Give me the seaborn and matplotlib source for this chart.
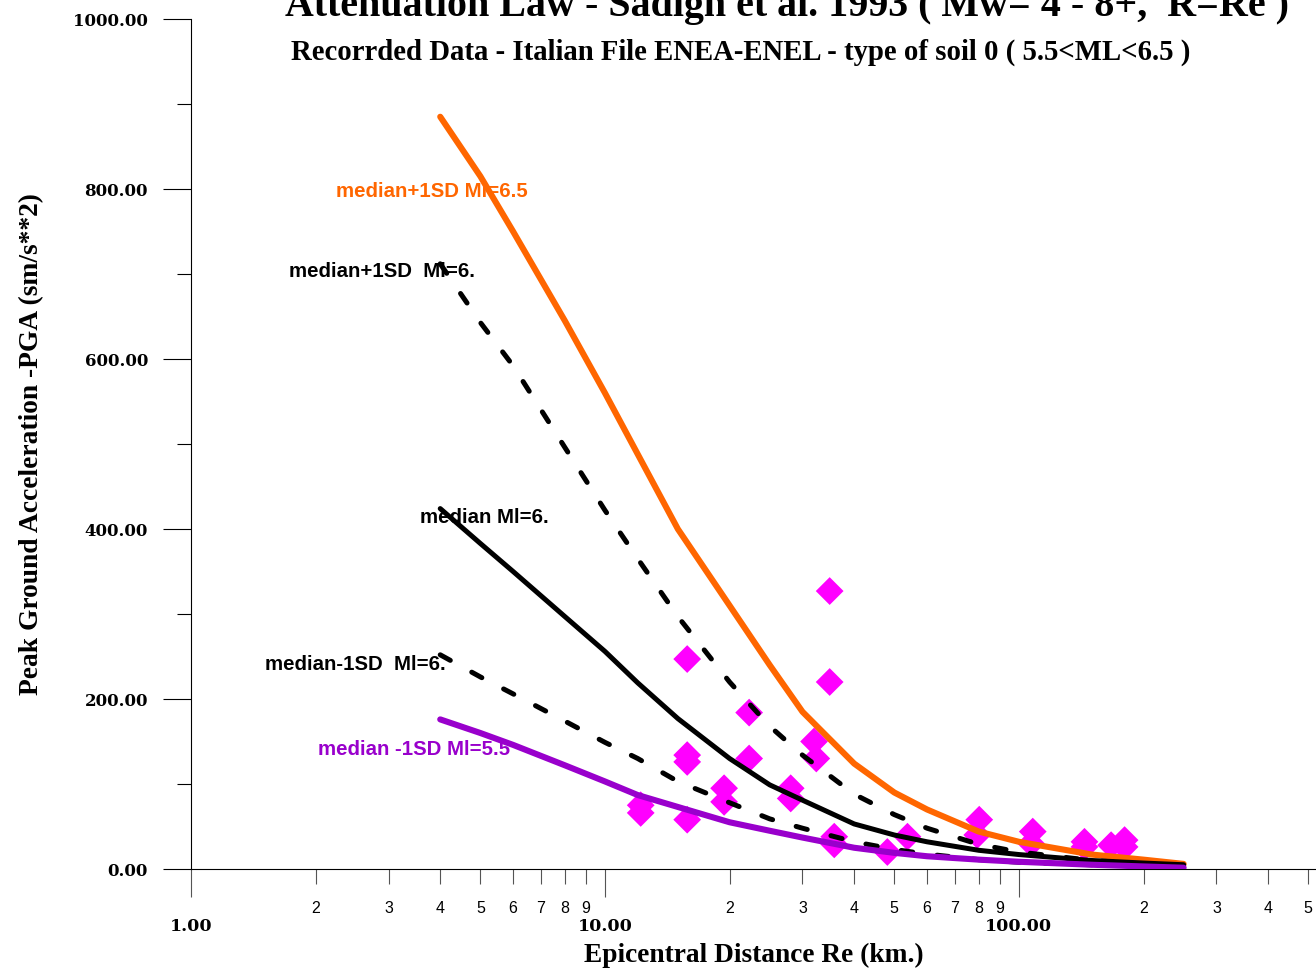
import numpy as np
import pandas as pd
import matplotlib
matplotlib.use("Agg")
import matplotlib.pyplot as plt
import seaborn as sns
from matplotlib.ticker import FixedLocator, FixedFormatter

# ---------------- data ----------------
distance = [4, 5, 6, 8, 10, 12, 15, 20, 25, 30, 40, 50, 60, 80, 100, 150, 200, 250]
plus1sd_ml65 = [885, 815, 750, 645, 560, 488, 400, 310, 240, 185, 124, 90, 70, 44, 32, 17, 11, 6]
plus1sd_ml6 = [712, 643, 592, 496, 422, 365, 297, 220, 168, 134, 88, 64, 48, 29, 20, 10, 6, 4]
median_ml6 = [424, 383, 350, 297, 256, 219, 177, 130, 99, 81, 53, 40, 32, 22, 17, 10, 7, 5]
minus1sd_ml6 = [252, 226, 206, 174, 149, 130, 103, 78, 59, 48, 32, 23, 17.5, 11, 8, 5, 3.5, 2.5]
minus1sd_ml55 = [176, 160, 146, 122, 103, 87, 73, 55, 45, 37, 25, 19, 15, 11, 8.5, 5, 3, 1.5]

rec_dist = [12.2, 12.2, 15.8, 15.8, 15.8, 15.8, 19.4, 19.4, 22.3, 22.3, 28.1, 28.1,
            32.0, 32.4, 34.9, 34.9, 35.8, 35.8, 48.1, 53.8, 79.3, 80.2, 107, 108,
            144, 144, 167, 180, 180]
rec_pga = [75, 66, 247, 134, 126, 58, 95, 79, 184, 130, 95, 83,
           150, 130, 327, 220, 38, 29, 20, 38, 40, 58, 30, 44,
           32, 26, 28, 34, 26]

major_ticks = [1, 10, 100]
major_labels = ["1.00", "10.00", "100.00"]
minor_ticks = [2, 3, 4, 5, 6, 7, 8, 9, 20, 30, 40, 50, 60, 70, 80, 90, 200, 300, 400, 500]
minor_labels = ["2", "3", "4", "5", "6", "7", "8", "9", "2", "3", "4", "5", "6", "7", "8", "9",
                "2", "3", "4", "5"]
y_major = [0, 200, 400, 600, 800, 1000]
y_minor = [100, 300, 500, 700, 900]

title = "Attenuation Law - Sadigh et al. 1993 ( Mw= 4 - 8+,  R=Re )"
subtitle = "Recorrded Data - Italian File ENEA-ENEL - type of soil 0 ( 5.5<ML<6.5 )"

# ---------------- style ----------------
sns.set_style("ticks")
plt.rcParams["font.family"] = ["DejaVu Sans"]
plt.rcParams["text.color"] = "black"
plt.rcParams["axes.labelcolor"] = "black"
plt.rcParams["xtick.labelcolor"] = "black"
plt.rcParams["ytick.labelcolor"] = "black"
plt.rcParams["axes.edgecolor"] = "black"

fig = plt.figure(figsize=(13.16, 9.73), dpi=100)
ax = fig.add_axes([191 / 1316, 1 - 869 / 973, 1125 / 1316, 850 / 973])

curves = pd.DataFrame({
    "distance": distance,
    "p65": plus1sd_ml65,
    "p6": plus1sd_ml6,
    "m6": median_ml6,
    "n6": minus1sd_ml6,
    "n55": minus1sd_ml55,
})
pts = pd.DataFrame({"distance": rec_dist, "pga": rec_pga})

sns.scatterplot(data=pts, x="distance", y="pga", marker="D", s=200, color="#FF00FF",
                edgecolor="none", linewidth=0, ax=ax, zorder=2, legend=False)

dash = (0, (2.3, 4.9))
sns.lineplot(data=curves, x="distance", y="p65", color="#FF6600", lw=4.4, ax=ax,
             solid_capstyle="round", solid_joinstyle="round", zorder=3)
sns.lineplot(data=curves, x="distance", y="p6", color="black", lw=3.6, ax=ax,
             linestyle=dash, dash_capstyle="round", zorder=3)
sns.lineplot(data=curves, x="distance", y="m6", color="black", lw=3.6, ax=ax,
             solid_capstyle="round", solid_joinstyle="round", zorder=3)
sns.lineplot(data=curves, x="distance", y="n6", color="black", lw=3.6, ax=ax,
             linestyle=dash, dash_capstyle="round", zorder=3)
sns.lineplot(data=curves, x="distance", y="n55", color="#9900CC", lw=4.4, ax=ax,
             solid_capstyle="round", solid_joinstyle="round", zorder=3)

ax.set_xscale("log")
ax.set_xlim(1, 522)
ax.set_ylim(0, 1000)

for s in ["top", "right"]:
    ax.spines[s].set_visible(False)
ax.spines["left"].set_linewidth(0.8)
ax.spines["bottom"].set_linewidth(0.8)

ax.xaxis.set_major_locator(FixedLocator(major_ticks))
ax.xaxis.set_major_formatter(FixedFormatter(major_labels))
ax.xaxis.set_minor_locator(FixedLocator(minor_ticks))
ax.xaxis.set_minor_formatter(FixedFormatter(minor_labels))
ax.yaxis.set_major_locator(FixedLocator(y_major))
ax.yaxis.set_major_formatter(FixedFormatter([f"{v:.2f}" for v in y_major]))
ax.yaxis.set_minor_locator(FixedLocator(y_minor))

ax.tick_params(axis="x", which="major", direction="out", length=20, width=0.8,
               color="#555555", labelcolor="black", pad=15, labelsize=12.5)
ax.tick_params(axis="x", which="minor", direction="out", length=11, width=0.8,
               color="#555555", labelcolor="black", pad=12, labelsize=11.5)
ax.tick_params(axis="y", which="major", direction="out", length=20, width=0.8,
               color="black", labelcolor="black", pad=11, labelsize=12)
ax.tick_params(axis="y", which="minor", direction="out", length=10, width=0.8,
               color="black")

for lab in ax.get_xticklabels(which="major") + ax.get_yticklabels():
    lab.set_fontfamily("DejaVu Serif")
    lab.set_fontweight("bold")
for lab in ax.get_xticklabels(which="minor"):
    lab.set_fontfamily("Liberation Sans")

ax.set_xlabel("Epicentral Distance Re (km.)", fontfamily="Liberation Serif",
              fontweight="bold", fontsize=19.7, labelpad=6, color="black")
ax.set_ylabel("Peak Ground Acceleration -PGA (sm/s**2)", fontfamily="Liberation Serif",
              fontweight="bold", fontsize=19.8, labelpad=21, color="black")

fig.text(787 / 1316, 1 - 16 / 973, title, ha="center", va="baseline", color="black",
         fontfamily="Liberation Serif", fontweight="bold", fontsize=28.8)
fig.text(741 / 1316, 1 - 60 / 973, subtitle, ha="center", va="baseline", color="black",
         fontfamily="Liberation Serif", fontweight="bold", fontsize=20.7)

lab_kw = dict(fontfamily="Liberation Sans", fontweight="bold", fontsize=14.7,
              va="center", ha="left", zorder=5)
ax.text(2.243, 797, "median+1SD Ml=6.5", color="#FF6600", **lab_kw)
ax.text(1.726, 703, "median+1SD  Ml=6.", color="black", **lab_kw)
ax.text(3.58, 413, "median Ml=6.", color="black", **lab_kw)
ax.text(1.51, 240, "median-1SD  Ml=6.", color="black", **lab_kw)
ax.text(2.03, 141, "median -1SD Ml=5.5", color="#9900CC", **lab_kw)

fig.savefig("out.png", dpi=100)
